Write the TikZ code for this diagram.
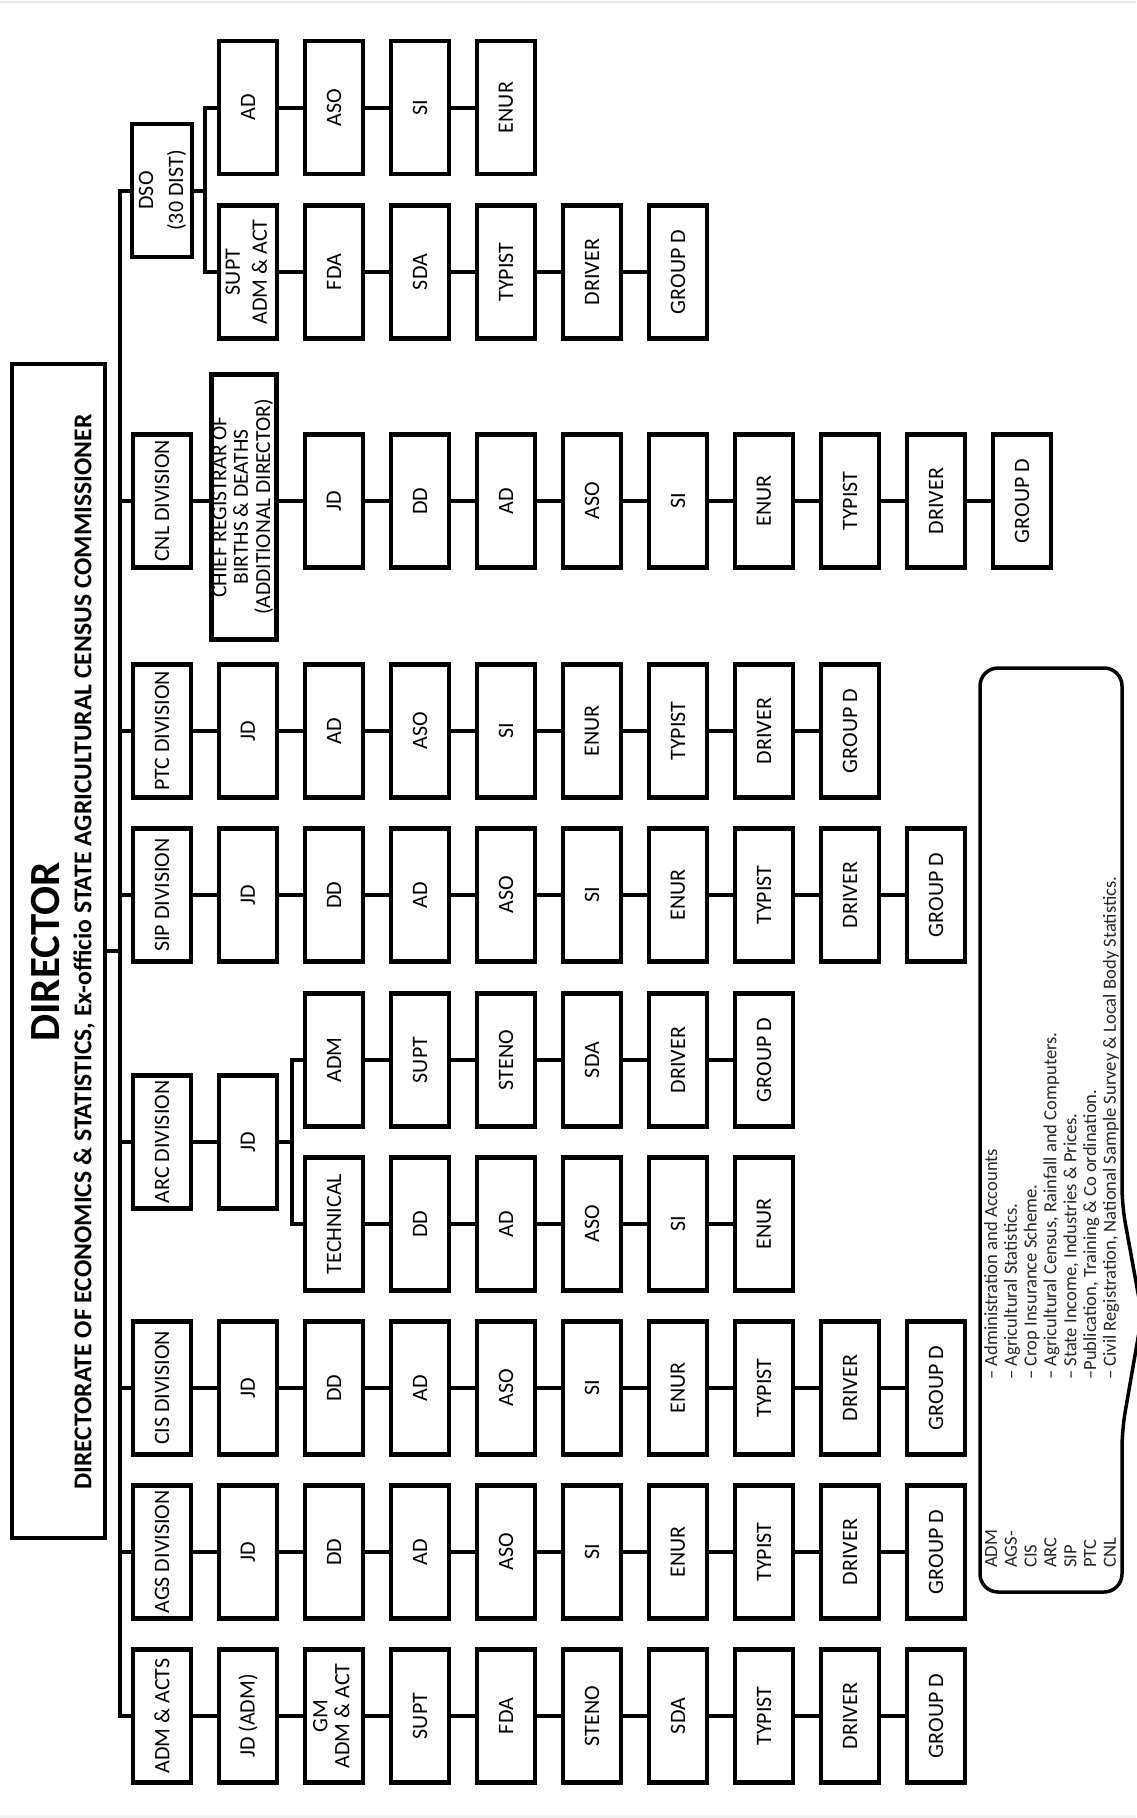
\documentclass[tikz,border=0pt]{standalone}
\usepackage{fontspec}
\setmainfont{Carlito}
\usepackage{graphicx}
\tikzset{
  box/.style={draw, line width=4.3pt, minimum width=58pt, minimum height=133pt, inner sep=0pt, font=\fontsize{22}{26}\selectfont},
  conn/.style={line width=4pt},
  titlebox/.style={draw, line width=4pt, minimum width=93pt, minimum height=1174pt, inner sep=0pt},
  legendline/.style={line width=3.5pt, rounded corners=18pt},
  legtxt/.style={inner sep=0pt, text=black!85},
}
\newcommand\twol[3]{\fontsize{22}{#3}\selectfont\begin{tabular}{@{}c@{}}#1\\#2\end{tabular}}
\newcommand\chain[4]{\foreach \lab [count=\i from #3] in {#4}{\node[box] (#1-\i) at ({162+(\i-1)*86},#2) {\rotatebox{90}{\lab}};}}
\newcommand\links[3]{\foreach \i [evaluate=\i as \j using int(\i+1)] in {#2,...,#3}{\draw[conn] (#1-\i) -- (#1-\j);}}
\begin{document}
\begin{tikzpicture}[x=1pt,y=-1pt]
\useasboundingbox (0,0) rectangle (1136,1818);
\fill[white] (0,0) rectangle (1136,1818);
\draw[gray!18, line width=2pt] (0,2) -- (1136,2);
\fill[gray!10] (0,1815) rectangle (1136,1818);

% title
\node[titlebox] (title) at (58.5,951) {};
\node[inner sep=0pt] (dirtxt) at (46,952) {\rotatebox{90}{\fontsize{43}{43}\selectfont\bfseries DIRECTOR}};
\node[inner sep=0pt] (subtxt) at (84,952) {\rotatebox{90}{\resizebox{1075pt}{!}{\fontsize{22}{22}\selectfont\bfseries DIRECTORATE OF ECONOMICS \& STATISTICS, Ex-officio STATE AGRICULTURAL CENSUS COMMISSIONER}}};

\coordinate (bus) at (120,0);
\coordinate (dbar) at (205,0);
\coordinate (abar) at (292,0);

% DSO
\node[box] (dso) at (162,190.5) {\rotatebox{90}{\twol{DSO}{(30 DIST)}{30}}};
\chain{dsoa}{107.5}{2}{AD, ASO, SI, ENUR}
\chain{dsob}{272}{2}{\twol{SUPT}{ADM \& ACT}{27}, FDA, SDA, TYPIST, DRIVER, GROUP D}
\links{dsoa}{2}{4}
\links{dsob}{2}{6}
\draw[conn] (dso.east) -- (dbar |- dso.east);
\draw[conn] (dsoa-2.west) -- (dbar |- dsoa-2.west) -- (dbar |- dsob-2.west) -- (dsob-2.west);

% CNL
\node[box] (cnl-1) at (162,501) {\rotatebox{90}{CNL DIVISION}};
\node[draw, line width=4.3pt, minimum width=64pt, minimum height=265pt, inner sep=0pt] (chief) at (244,507)
  {\rotatebox{90}{\fontsize{21.5}{21.5}\selectfont\begin{tabular}{@{}c@{}}CHIEF REGISTRAR OF\\BIRTHS \& DEATHS\\(ADDITIONAL DIRECTOR)\end{tabular}}};
\chain{cnl}{501}{3}{JD, DD, AD, ASO, SI, ENUR, TYPIST, DRIVER, GROUP D}
\links{cnl}{3}{10}
\draw[conn] (cnl-1.east) -- (chief.west |- cnl-1.east);
\draw[conn] (chief.east |- cnl-3.west) -- (cnl-3.west);

% PTC
\chain{ptc}{731}{1}{PTC DIVISION, JD, AD, ASO, SI, ENUR, TYPIST, DRIVER, GROUP D}
\links{ptc}{1}{8}
% SIP
\chain{sip}{895}{1}{SIP DIVISION, JD, DD, AD, ASO, SI, ENUR, TYPIST, DRIVER, GROUP D}
\links{sip}{1}{9}
% ARC
\chain{arc}{1142}{1}{ARC DIVISION, JD}
\chain{arca}{1060}{3}{ADM, SUPT, STENO, SDA, DRIVER, GROUP D}
\chain{arct}{1224}{3}{TECHNICAL, DD, AD, ASO, SI, ENUR}
\links{arc}{1}{1}
\links{arca}{3}{7}
\links{arct}{3}{7}
\draw[conn] (arc-2.east) -- (abar |- arc-2.east);
\draw[conn] (arca-3.west) -- (abar |- arca-3.west) -- (abar |- arct-3.west) -- (arct-3.west);
% CIS
\chain{cis}{1388}{1}{CIS DIVISION, JD, DD, AD, ASO, SI, ENUR, TYPIST, DRIVER, GROUP D}
\links{cis}{1}{9}
% AGS
\chain{ags}{1552}{1}{AGS DIVISION, JD, DD, AD, ASO, SI, ENUR, TYPIST, DRIVER, GROUP D}
\links{ags}{1}{9}
% ADM & ACTS
\chain{adm}{1716}{1}{ADM \& ACTS, JD (ADM), \twol{GM}{ADM \& ACT}{22}, SUPT, FDA, STENO, SDA, TYPIST, DRIVER, GROUP D}
\links{adm}{1}{9}

% trunk
\draw[conn] (dso.west) -- (bus |- dso.west) -- (bus |- adm-1.west) -- (adm-1.west);
\foreach \n in {cnl-1, ptc-1, sip-1, arc-1, cis-1, ags-1}{\draw[conn] (bus |- \n.west) -- (\n.west);}
\draw[conn] (title.east) -- (bus |- title.east);

% legend
\draw[legendline] (980,1100) -- (980,668) -- (1122,668) -- (1122,1205) -- (1142,1315) -- (1122,1430) -- (1122,1592) -- (980,1592) -- cycle;
\node[legtxt, anchor=south] (legab) at (1052.5,1568) {\rotatebox{90}{\fontsize{18.6}{19.8}\selectfont\begin{tabular}{@{}l@{}}ADM\\AGS-\\CIS\\ARC\\SIP\\PTC\\CNL\end{tabular}}};
\node[legtxt, anchor=south] (legdesc) at (1052.5,1380) {\rotatebox{90}{\fontsize{18.6}{19.8}\selectfont\begin{tabular}{@{}l@{}}-- Administration and Accounts\\-- Agricultural Statistics.\\-- Crop Insurance Scheme.\\-- Agricultural Census, Rainfall and Computers.\\-- State Income, Industries \& Prices.\\--Publication, Training \& Co ordination.\\-- Civil Registration, National Sample Survey \& Local Body Statistics.\end{tabular}}};
\end{tikzpicture}
\end{document}
